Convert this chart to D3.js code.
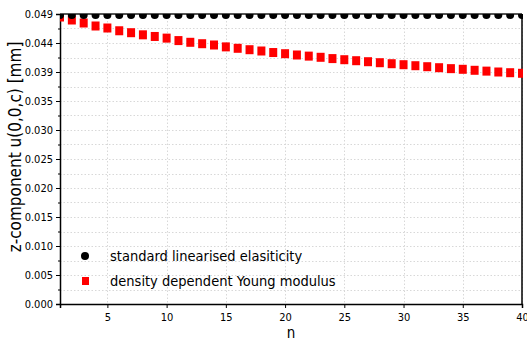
<!DOCTYPE html>
<html><head><meta charset="utf-8">
<script src="https://cdn.jsdelivr.net/npm/d3@7"></script>
<style>body{margin:0;background:#fff}svg{display:block}text{font-family:"DejaVu Sans Condensed","DejaVu Sans",sans-serif;font-stretch:condensed}</style>
</head><body><svg id="c" width="527" height="342"></svg>
<script>
const n = d3.range(1, 41);
const standard = n.map(() => 0.0493);
const density = [0.04879,0.04828,0.04777,0.04726,0.04692,0.04645,0.04612,0.04576,0.04548,0.04520,
0.04478,0.04449,0.04425,0.04403,0.04371,0.04347,0.04323,0.04301,0.04275,0.04255,
0.04233,0.04214,0.04194,0.04172,0.04153,0.04136,0.04119,0.04102,0.04085,0.04068,
0.04051,0.04034,0.04017,0.04001,0.03990,0.03973,0.03959,0.03944,0.03932,0.03922];
const yMax = 0.0493;
const xTicks = [5,10,15,20,25,30,35,40];
const seriesNames = ["standard linearised elasiticity","density dependent Young modulus"];

const svg = d3.select("#c");
const m = {l:60, r:522, t:14, b:304};
const x = d3.scaleLinear().domain([1,40]).range([m.l, m.r]);
const y = d3.scaleLinear().domain([0,yMax]).range([m.b, m.t]);
const yTicks = d3.range(0, 11).map(i => i*yMax/10);
const yMinor = d3.range(0, 10).map(i => (i+0.5)*yMax/10);

// grid
const g = svg.append("g");
g.selectAll(".hg").data(yTicks.concat(yMinor)).join("line")
  .attr("x1", m.l).attr("x2", m.r).attr("y1", d=>Math.round(y(d))+0.5).attr("y2", d=>Math.round(y(d))+0.5)
  .attr("stroke","#d8d8d8").attr("stroke-dasharray","1.5,2");
g.selectAll(".vg").data(xTicks).join("line")
  .attr("y1", m.t).attr("y2", m.b).attr("x1", d=>Math.round(x(d))+0.5).attr("x2", d=>Math.round(x(d))+0.5)
  .attr("stroke","#d8d8d8").attr("stroke-dasharray","1.5,2");

// axes
const xAxis = svg.append("g").attr("transform",`translate(0,${m.b})`)
  .call(d3.axisBottom(x).tickValues(xTicks).tickSize(4).tickFormat(d3.format("d")));
const yAxis = svg.append("g").attr("transform",`translate(${m.l},0)`)
  .call(d3.axisLeft(y).tickValues(yTicks).tickSize(4).tickFormat(d3.format(".3f")));
svg.append("g").attr("transform",`translate(${m.l},0)`)
  .call(d3.axisLeft(y).tickValues(yMinor).tickSize(2).tickFormat(""))
  .select(".domain").remove();
[xAxis,yAxis].forEach(a=>{a.selectAll("text").attr("font-size",11).attr("fill","#000").attr("font-family",null);
  a.select(".domain").attr("stroke","#000").attr("stroke-width",1.5);});
xAxis.selectAll("text").attr("dy","0.9em");
// top and right frame
svg.append("line").attr("x1",m.l).attr("x2",m.r).attr("y1",m.t).attr("y2",m.t).attr("stroke","#555").attr("stroke-width",2);
svg.append("line").attr("x1",m.r).attr("x2",m.r).attr("y1",m.t).attr("y2",m.b).attr("stroke","#000").attr("stroke-width",1.5);

// clip
svg.append("clipPath").attr("id","cp").append("rect").attr("x",m.l).attr("y",m.t).attr("width",m.r-m.l+1).attr("height",m.b-m.t);
const plot = svg.append("g").attr("clip-path","url(#cp)");
plot.selectAll(".sq").data(density).join("rect")
  .attr("x",(d,i)=>x(n[i])-4).attr("y",d=>y(d)-4.5).attr("width",8).attr("height",9).attr("fill","#ff0000");
plot.selectAll(".ci").data(standard).join("circle")
  .attr("cx",(d,i)=>x(n[i])).attr("cy",d=>y(d)+1).attr("r",4).attr("fill","#000");

// legend
svg.append("circle").attr("cx",85).attr("cy",256).attr("r",4).attr("fill","#000");
svg.append("rect").attr("x",82).attr("y",277).attr("width",7).attr("height",8).attr("fill","#ff0000");
svg.selectAll(".lt").data(seriesNames).join("text").attr("x",110).attr("y",(d,i)=>261+i*25)
  .attr("font-size",14.5).text(d=>d);

// labels
svg.append("text").attr("x",291).attr("y",338).attr("text-anchor","middle").attr("font-size",15).text("n");
svg.append("text").attr("transform","translate(21,147) rotate(-90)").attr("text-anchor","middle").attr("font-size",17).text("z-component u(0,0,c) [mm]");
</script></body></html>
